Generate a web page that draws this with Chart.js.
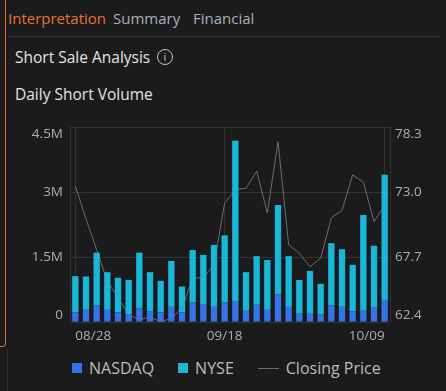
<!DOCTYPE html>
<html>
<head>
<meta charset="utf-8">
<script src="https://cdn.jsdelivr.net/npm/chart.js@4.4.1/dist/chart.umd.min.js"></script>
<style>
  body { margin: 0; width: 446px; height: 391px; background: #1b1b1b; overflow: hidden; position: relative; font-family: 'Open Sans', sans-serif; }
  .edge { position: absolute; left: -10px; top: -4px; width: 14px; height: 349px; border: 1.5px solid #e0682c; border-radius: 3px; }
  .edge-low { position: absolute; left: 7px; top: 350px; width: 1px; height: 41px; background: #2a2a2a; }
  .tab { position: absolute; top: 8px; font-size: 15px; line-height: 20px; white-space: nowrap; color: #a9afbb; }
  .tab.on { color: #ea6f35; }
  .rule { position: absolute; left: 8px; right: 6px; top: 36px; height: 1px; background: #313131; }
  .title { position: absolute; left: 15px; font-size: 15.5px; line-height: 20px; color: #e4e4e4; white-space: nowrap; }
  .info { position: absolute; left: 157px; top: 49px; width: 14px; height: 14px; border: 1.3px solid #c4c4c4; border-radius: 50%; color: #c4c4c4; font-size: 11px; line-height: 14px; text-align: center; }
  #wrap { position: absolute; left: 0; top: 120px; width: 446px; height: 230px; }
  .legend { position: absolute; left: 72px; top: 358px; display: flex; align-items: center; font-size: 16px; line-height: 20px; color: #bdbdbd; white-space: nowrap; }
  .legend .item { display: flex; align-items: center; margin-right: 24px; }
  .legend .sq { width: 10px; height: 10px; margin-right: 7px; }
  .legend .ln { width: 21px; height: 1px; margin-right: 7px; }
</style>
</head>
<body>
<div class="edge"></div>
<div class="edge-low"></div>
<div class="tab on" style="left:8px">Interpretation</div>
<div class="tab" style="left:113px">Summary</div>
<div class="tab" style="left:193px">Financial</div>
<div class="rule"></div>
<div class="title" style="top:47px">Short Sale Analysis</div>
<div class="info">i</div>
<div class="title" style="top:84px">Daily Short Volume</div>
<div id="wrap"><canvas id="shortChart"></canvas></div>
<div class="legend" id="legend"></div>
<script>
const dates = ["08/28", "08/29", "09/02", "09/03", "09/04", "09/05", "09/08", "09/09", "09/10", "09/11",
  "09/12", "09/15", "09/16", "09/17", "09/18", "09/19", "09/22", "09/23", "09/24", "09/25",
  "09/26", "09/29", "09/30", "10/01", "10/02", "10/03", "10/06", "10/07", "10/08", "10/09"];
// short volume, millions of shares
const nasdaq = [0.22, 0.28, 0.38, 0.28, 0.22, 0.18, 0.31, 0.25, 0.22, 0.35,
  0.22, 0.45, 0.40, 0.35, 0.45, 0.48, 0.26, 0.40, 0.28, 0.64,
  0.35, 0.19, 0.19, 0.17, 0.38, 0.35, 0.25, 0.26, 0.33, 0.51];
const nyse = [0.84, 0.77, 1.22, 0.87, 0.80, 0.79, 1.29, 0.90, 0.73, 1.06,
  0.60, 1.21, 1.15, 1.43, 1.55, 3.70, 0.89, 1.12, 1.15, 2.06,
  1.17, 0.78, 0.99, 0.71, 1.44, 1.33, 1.07, 2.21, 1.43, 2.89];
const closing = [73.5, 70.8, 68.3, 65.7, 64.4, 63.0, 62.6, 62.8, 62.4, 62.7,
  63.5, 66.0, 66.0, 67.1, 72.1, 73.2, 73.3, 74.7, 71.3, 77.1,
  68.7, 68.0, 66.9, 67.6, 70.9, 71.5, 74.4, 73.8, 70.6, 71.9];
const volTicks = [0, 1.5, 3, 4.5];
const priceTicks = [62.4, 67.7, 73.0, 78.3];
const shownDates = ["08/28", "09/18", "10/09"];

const colors = { nasdaq: "#3474e6", nyse: "#1ab6d9", price: "#6c6c6c" };
const gridColor = "#323232";
const tickColor = "#a9aeb7";

Chart.defaults.font.family = "'Open Sans', sans-serif";

// first and last labels sit inside the plot, like the original widget
function edgeLabel(text, i, n) {
  if (i === 0) return [text, ""];
  if (i === n - 1) return ["", text];
  return text;
}

// fixed axis width, and no extra room reserved for the two-line edge labels
function fitSide(width) {
  return s => {
    s.width = width;
    s.paddingTop = 0;
    s.paddingBottom = 0;
  };
}

new Chart(document.getElementById("shortChart"), {
  type: "bar",
  data: {
    labels: dates,
    datasets: [
      { label: "NASDAQ", data: nasdaq, backgroundColor: colors.nasdaq, order: 0 },
      { label: "NYSE", data: nyse, backgroundColor: colors.nyse, order: 0 },
      {
        type: "line",
        label: "Closing Price",
        data: closing,
        yAxisID: "y1",
        borderColor: colors.price,
        borderWidth: 1,
        pointRadius: 0,
        tension: 0,
        order: 1
      }
    ]
  },
  options: {
    responsive: true,
    maintainAspectRatio: false,
    animation: false,
    categoryPercentage: 0.8,
    barPercentage: 0.74,
    layout: { padding: { top: 7 } },
    plugins: { legend: { display: false }, tooltip: { enabled: false } },
    scales: {
      x: {
        stacked: true,
        offset: true,
        grid: { color: gridColor, offset: false, drawTicks: false },
        border: { color: gridColor },
        ticks: { color: tickColor, font: { size: 13.5 }, padding: 6, maxRotation: 0, autoSkip: false, align: "inner" },
        afterBuildTicks: s => { s.ticks = s.ticks.filter(t => shownDates.includes(dates[t.value])); },
        afterFit: s => { s.height = 28; }
      },
      y: {
        stacked: true,
        position: "left",
        min: 0,
        max: 4.5,
        grid: { color: gridColor, drawTicks: false },
        border: { color: gridColor },
        ticks: {
          color: tickColor,
          font: { size: 13.5, lineHeight: 1.05 },
          padding: 7,
          callback: (v, i, ticks) => edgeLabel(v === 0 ? "0" : v + "M", i, ticks.length)
        },
        afterBuildTicks: s => { s.ticks = volTicks.map(v => ({ value: v })); },
        afterFit: fitSide(70)
      },
      y1: {
        position: "right",
        min: 62.4,
        max: 78.3,
        grid: { display: false, drawTicks: false },
        border: { color: gridColor },
        ticks: {
          color: tickColor,
          font: { size: 13.5, lineHeight: 1.05 },
          padding: 5,
          callback: (v, i, ticks) => edgeLabel(v.toFixed(1), i, ticks.length)
        },
        afterBuildTicks: s => { s.ticks = priceTicks.map(v => ({ value: v })); },
        afterFit: fitSide(56)
      }
    }
  }
});

const legend = document.getElementById("legend");
[["NASDAQ", "sq", colors.nasdaq], ["NYSE", "sq", colors.nyse], ["Closing Price", "ln", colors.price]].forEach(([name, kind, color]) => {
  const item = document.createElement("span");
  item.className = "item";
  item.innerHTML = `<i class="${kind}" style="background:${color}"></i>${name}`;
  legend.appendChild(item);
});
</script>
</body>
</html>
